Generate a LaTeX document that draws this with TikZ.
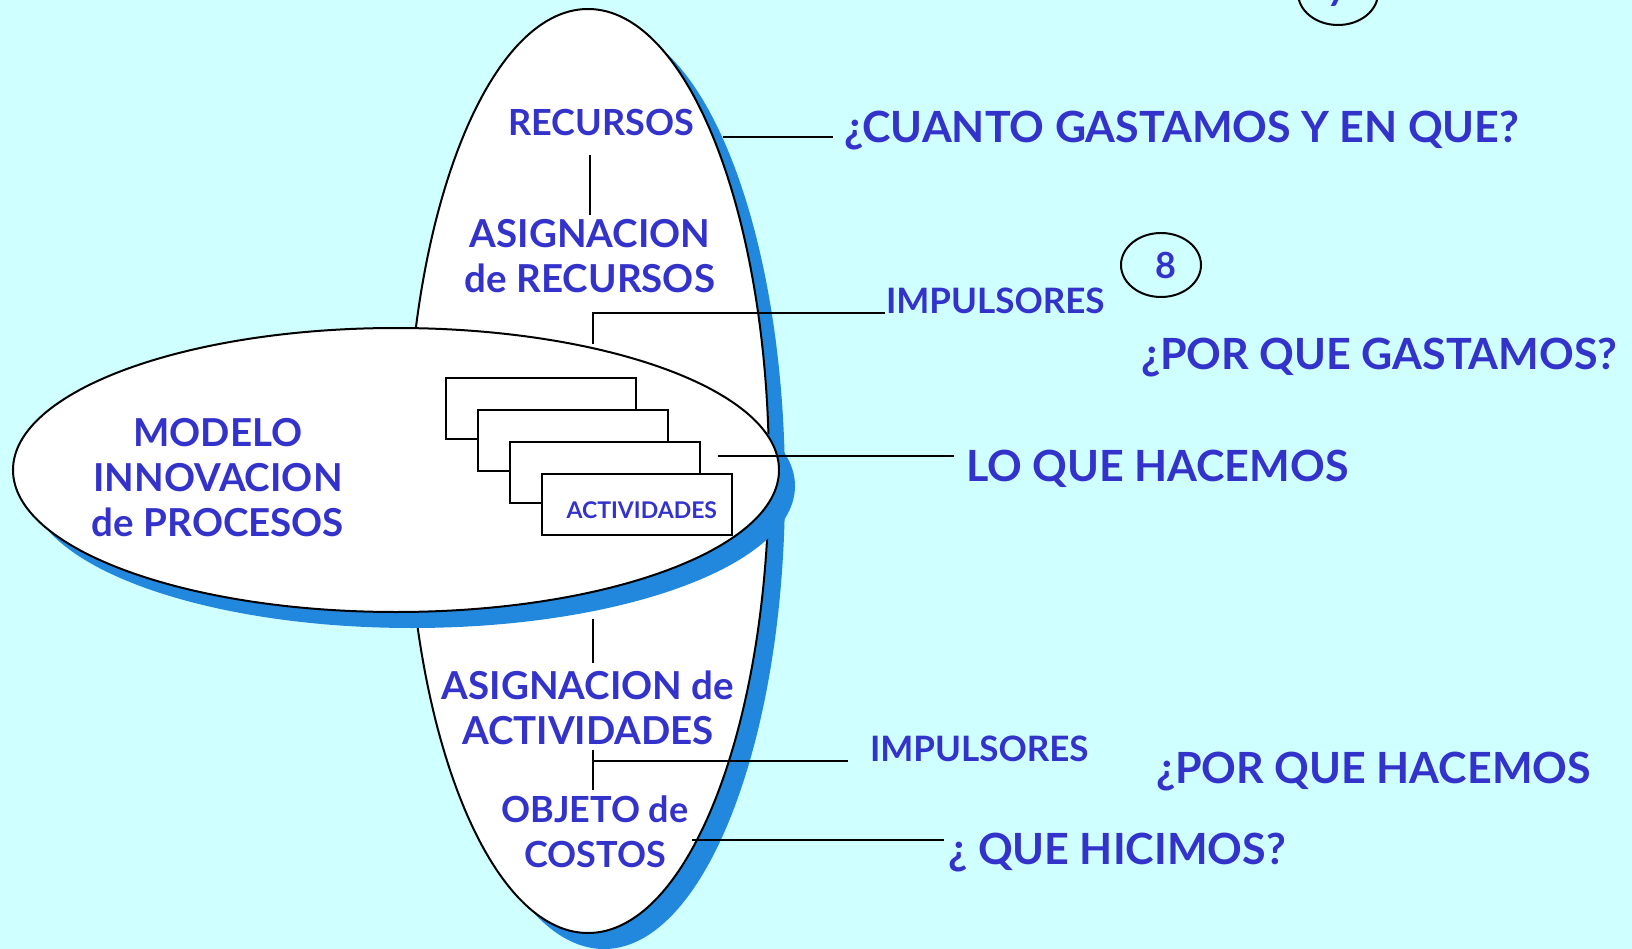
\documentclass[tikz,border=0pt]{standalone}
\usepackage{fontspec}
\setmainfont{Lato}
\usetikzlibrary{shapes.geometric,shadows}
\definecolor{bgcyan}{RGB}{208,255,255}
\definecolor{textblue}{RGB}{51,51,204}
\definecolor{shadowblue}{RGB}{34,136,221}

\begin{document}
\begin{tikzpicture}[x = 1pt, y = -1pt, line width = 2pt,
    every node/.style = {inner sep = 0pt, text = textblue, font = \bfseries\fontsize{36}{45}\selectfont},
    blob/.style = {shape = ellipse, draw, fill = white,
        general shadow = {fill = shadowblue, shadow xshift = 16pt, shadow yshift = -16pt}},
    card/.style = {draw, fill = white, minimum width = 190pt, minimum height = 61pt, anchor = north west},
    wide/.style = {font = \bfseries\fontsize{38.5}{45}\selectfont},
    big/.style = {font = \bfseries\fontsize{43}{50}\selectfont},
    mid/.style = {font = \bfseries\fontsize{35}{45}\selectfont},
    tag/.style = {shape = ellipse, draw, minimum width = 80pt, minimum height = 64pt}]
        \path[use as bounding box, fill = bgcyan] (0,0) rectangle (1632,949);
        \node[blob, minimum width = 362pt, minimum height = 924pt] (vert) at (588,471) {};
        \node[blob, minimum width = 766pt, minimum height = 284pt] (horiz) at (396,470) {};
        \node[card] (card1) at (445,377) {};
        \node[card] (card2) at (477,409) {};
        \node[card] (card3) at (509,441) {};
        \node[card, text height = 29pt, text width = 160pt, align = right,
            font = \bfseries\fontsize{23}{25}\selectfont] (card4) at (541,473) {ACTIVIDADES};
        \node (recursos) at (601,122) {RECURSOS};
        \node[wide, align = center] (asigrec) at (590,256) {ASIGNACION\\de RECURSOS};
        \node[wide, align = center] (modelo) at (218,478) {MODELO\\INNOVACION\\de PROCESOS};
        \node[wide, align = center] (asigact) at (588,708) {ASIGNACION de\\ACTIVIDADES};
        \node[align = center] (objeto) at (595,832) {OBJETO de\\COSTOS};
        \node[big, anchor = base west] (cuanto) at (843,143) {¿CUANTO GASTAMOS Y EN QUE?};
        \node[mid, anchor = base west] (imp1) at (885,314) {IMPULSORES};
        \node[tag, text width = 12pt, align = right] (tag8) at (1161,265) {8};
        \node[tag] (tag7) at (1338,-7) {7};
        \node[big, anchor = base west] (porgast) at (1140,369) {¿POR QUE GASTAMOS?};
        \node[big, anchor = base west] (loque) at (965,481) {LO QUE HACEMOS};
        \node[mid, anchor = base west] (imp2) at (869,761) {IMPULSORES};
        \node[big, anchor = base west] (porhac) at (1155,783) {¿POR QUE HACEMOS};
        \node[big, anchor = base west] (hicimos) at (947,864) {¿ QUE HICIMOS?};
        \coordinate (cuantoend) at (723,137);
        \coordinate (j1) at (593,313);
        \coordinate (j1foot) at (593,344);
        \coordinate (lostart) at (718,456);
        \coordinate (j2) at (593,761);
        \coordinate (hicstart) at (692,840);
        \draw (cuantoend) -- ([xshift = -10pt] cuantoend -| cuanto.west);
        \draw[shorten <= 19pt, shorten >= 3pt] (asigrec.north |- recursos.south) -- (asigrec.north);
        \draw (j1foot) -- (j1) -- (j1 -| imp1.west);
        \draw (lostart) -- ([xshift = -11pt] lostart -| loque.west);
        \draw[shorten <= 6pt, shorten >= 7pt] (horiz.south -| j1) -- (asigact.north -| j1);
        \draw[shorten <= 4pt, shorten >= 5pt] (asigact.south -| j2) -- (objeto.north -| j2);
        \draw (j2) -- ([xshift = -21pt] j2 -| imp2.west);
        \draw (hicstart) -- ([xshift = -3pt] hicstart -| hicimos.west);
\end{tikzpicture}
\end{document}
